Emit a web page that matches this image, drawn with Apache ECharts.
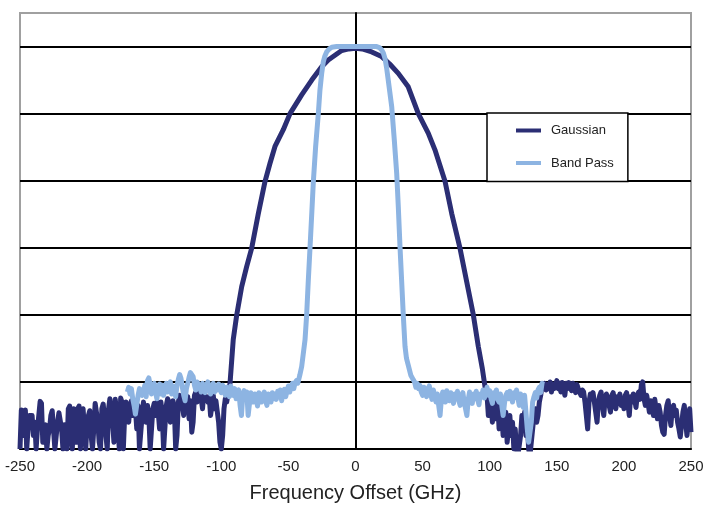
<!DOCTYPE html>
<html>
<head>
<meta charset="utf-8">
<script src="https://cdn.jsdelivr.net/npm/echarts@6/dist/echarts.min.js"></script>
<style>
html,body{margin:0;padding:0;background:#fff;}
#chart{width:708px;height:508px;}
</style>
</head>
<body>
<div id="chart"></div>
<script>
// X-axis tick range (GHz)
const xTicks = { min: -250, max: 250, step: 50 };
// Y range (dB); grid lines every 10 dB
const yRange = { min: -60, max: 5, step: 10 };

// Gaussian: noise floor sampled every 1 GHz from -250 to -96
const gaussLeftNoiseStart = -250;
const gaussLeftNoise = [
  -60, -54.2, -54.4, -58, -54.2, -60, -57, -55, -55.2, -55,
  -58, -56, -60, -57, -55, -52.9, -53.2, -59, -57, -56.4,
  -60, -58, -57, -55, -54.3, -54.5, -60, -58, -56, -54.6,
  -54.8, -57, -60, -56.4, -58, -60, -54, -53.6, -53.8, -60,
  -54, -53.8, -59, -54, -53.6, -60, -55, -54, -53.8, -60,
  -56, -55, -54.3, -58, -60, -57, -53.2, -53.1, -56, -59,
  -60, -54, -53.3, -53.5, -58, -60, -54, -52.5, -52.4, -56,
  -59, -52.6, -52.5, -57, -60, -52.4, -53, -60, -55, -53,
  -52.8, -56, -53.5, -52.8, -55, -53, -54, -57, -53.5, -60,
  -60, -55, -53, -52.8, -56, -53.5, -55, -60, -60, -54,
  -53.2, -55, -53, -54.5, -57, -53, -55, -60, -60, -53.5,
  -52.5, -53, -56, -54.5, -52.8, -54, -60, -58, -53, -52,
  -51.8, -53.5, -55, -51.8, -53, -52.2, -55.5, -52.8, -57.5, -56,
  -52, -51.5, -53, -51.2, -50.8, -52.5, -54, -51.5, -52, -51.8,
  -53, -52.2, -55, -53.5, -52, -54, -52.8, -53, -56, -59,
  -60, -58, -54, -52.5, -53
];
// Gaussian: main lobe
const gaussCurveX = [-95, -93.5, -91.1, -88.5, -84.8, -81.1, -77.4, -72.4, -67.4, -63.7,
  -60, -53.8, -48.8, -40.1, -32.6, -25.2, -20.3, -15.3, -10.3, -5,
  0, 5, 12.1, 19.5, 25.5, 31.9, 39.3, 46.8, 54.2, 59.2,
  66.7, 71.7, 77.9, 82.9, 87.8, 91.5, 94.5, 96.5];
const gaussCurveY = [-53, -50.2, -43.7, -40, -35.8, -32.8, -30.1, -24.9, -20.1, -17.4,
  -14.9, -12.4, -10, -7.2, -5, -3, -2, -1.3, -0.6, -0.35,
  -0.27, -0.35, -0.8, -1.5, -2.6, -4, -6, -10, -12.9, -15.4,
  -20.1, -24.9, -30.1, -35.1, -40, -44.7, -48, -50.7];
// Gaussian: noise floor sampled every 1 GHz from 97 to 250
const gaussRightNoiseStart = 97;
const gaussRightNoise = [
  -51.5, -52, -55, -51.5, -53, -56, -52, -54, -55.5, -53,
  -57, -54, -55, -58, -56, -54.5, -59, -57, -55, -58,
  -56, -60, -57, -60, -61, -61, -58, -55, -57, -54.5,
  -58, -56, -60, -61, -61, -57, -55, -54, -56, -55,
  -53, -52, -50.5, -50.8, -50.2, -51.2, -50.4, -51, -50, -51.5,
  -50.3, -51, -50.6, -49.8, -51, -50.2, -51.5, -50.1, -50.6, -52,
  -50.2, -51, -50.1, -50.7, -51.3, -50.2, -50.5, -51.6, -50.4, -51,
  -50.8, -52, -51.2, -51.5, -53, -55, -57, -53, -51.8, -52.5,
  -51.6, -53, -54.5, -56, -53, -52, -51.5, -53.5, -55, -52.5,
  -51.8, -52.6, -53.5, -54.5, -52, -51.6, -53, -54, -52.2, -52.8,
  -51.8, -53.5, -52.5, -54, -52, -51.6, -53.2, -55, -52.2, -53,
  -51.8, -52.5, -53.8, -52, -51.5, -52.6, -50.4, -50, -52.5, -53.5,
  -52, -53.2, -54.5, -52.8, -53.5, -55, -52.6, -54, -55.5, -53.5,
  -54.5, -56.5, -57.5, -57.8, -55, -53.5, -52.8, -55, -56.5, -54,
  -53.5, -55, -54.2, -56, -57, -58.2, -58, -54.5, -53.5, -56,
  -58, -58, -54, -57.5
];

// Band Pass: noise floor sampled every 1 GHz from -170 to -43
const bandLeftNoiseStart = -170;
const bandLeftNoise = [
  -51.5, -50.8, -51.8, -51, -52.5, -53.5, -54.8, -55, -52, -51,
  -50.8, -52, -51.3, -50.5, -52.2, -49.8, -49.4, -50.5, -51.8, -51,
  -50.2, -51.5, -52.5, -51, -50.3, -51.8, -50.5, -52, -51.2, -50.2,
  -51.5, -50.5, -50, -51.8, -50.6, -51.2, -52.2, -50.5, -49.6, -48.9,
  -49.5, -50.8, -52, -52.8, -51, -50.2, -49.3, -48.6, -48.4, -49.2,
  -50.5, -51.2, -50, -49.8, -50.8, -51.5, -50.2, -50.8, -51.6, -50.4,
  -50, -51, -51.8, -50.6, -50.2, -51.5, -50.8, -51.2, -50.3, -51,
  -51.6, -50.5, -51, -52, -50.8, -51.5, -52.2, -50.6, -51.3, -52,
  -51, -52.5, -51.5, -51.2, -53.5, -55, -52, -51.3, -52.6, -51.5,
  -55, -53.2, -51.6, -52.2, -53, -51.8, -52.5, -53.6, -51.6, -52.3,
  -53, -52, -51.5, -52.8, -53.5, -51.8, -52.4, -53, -51.6, -52.5,
  -51.8, -52.6, -51.4, -52.2, -51.2, -52.8, -51.5, -51.1, -52.2, -51.3,
  -50.6, -51.5, -50.8, -50.2, -51, -50.1, -49.8, -50.2
];
// Band Pass: pass band
const bandCurveX = [-41.5, -40.1, -37.6, -36.4, -35.2, -33.9, -32.6, -31.4, -29.7, -27.7,
  -26.5, -25.2, -24, -22.8, -21.5, -19.5, -17.7, -14, 0, 15.8,
  17.8, 19.5, 20.8, 22, 23.2, 24.4, 27, 28.9, 30.7, 31.9,
  33.2, 34.4, 35.6, 36.9, 38, 39.3, 41.2, 43.1];
const bandCurveY = [-49, -47.7, -43.7, -40, -35, -30, -24.9, -20.1, -14.9, -10,
  -6.5, -4, -2.3, -1.4, -0.8, -0.35, -0.1, 0, 0, 0,
  -0.15, -0.5, -1.0, -1.8, -3.2, -5, -9, -13.9, -18.9, -23.9,
  -30, -35, -40, -44.7, -46.5, -47.5, -49, -49.7];
// Band Pass: noise floor sampled every 1 GHz from 44 to 140
const bandRightNoiseStart = 44;
const bandRightNoise = [
  -50, -50.8, -50.2, -51, -50.5, -51.5, -52, -50.8, -51.4, -52.2,
  -51, -50.6, -51.8, -52.6, -51.2, -52, -53, -51.8, -53.5, -55,
  -52.5, -51.5, -52.2, -53, -51.3, -52, -52.8, -51.6, -52.4, -53.2,
  -51.8, -52.5, -51.4, -52.8, -53.5, -52, -51.6, -53, -54, -55,
  -52.6, -51.5, -52.3, -53.2, -51.8, -52.5, -51.4, -52.6, -53.4, -51.8,
  -52.2, -51.2, -52.4, -51.6, -50.8, -52, -51.3, -52.5, -53.2, -51.6,
  -52.4, -51.2, -52.6, -53, -51.8, -53.5, -55, -53.2, -52, -51.6,
  -52.5, -51.4, -52.2, -53, -51.6, -52.3, -51.2, -52.4, -53.5, -51.8,
  -52.6, -53.8, -52, -54.5, -57, -59, -59.2, -56, -53, -52.2,
  -51.6, -52.4, -51.2, -50.8, -51.6, -50.2, -50.4
];

function sampled(start, vals) { return vals.map((v, i) => [start + i, v]); }
function paired(xs, ys) { return xs.map((x, i) => [x, ys[i]]); }

const gaussData = [].concat(
  sampled(gaussLeftNoiseStart, gaussLeftNoise),
  paired(gaussCurveX, gaussCurveY),
  sampled(gaussRightNoiseStart, gaussRightNoise)
);
const bandData = [].concat(
  sampled(bandLeftNoiseStart, bandLeftNoise),
  paired(bandCurveX, bandCurveY),
  sampled(bandRightNoiseStart, bandRightNoise)
);

const chart = echarts.init(document.getElementById('chart'), null, { renderer: 'canvas' });
const font = 'Liberation Sans, Arial, Helvetica, sans-serif';
chart.setOption({
  animation: false,
  backgroundColor: '#fff',
  grid: { left: 20, right: 17, top: 13, bottom: 59, show: true, borderColor: '#a0a0a0', borderWidth: 2, backgroundColor: 'transparent' },
  legend: {
    orient: 'vertical', left: 487, top: 113,
    icon: 'rect', itemWidth: 25, itemHeight: 4, itemGap: 19.5,
    padding: [11, 14, 12, 29],
    borderColor: '#000', borderWidth: 1.5, backgroundColor: '#fff',
    textStyle: { fontFamily: font, fontSize: 13, color: '#222', padding: [0, 0, 0, 5] },
    data: ['Gaussian', 'Band Pass']
  },
  xAxis: {
    type: 'value', min: xTicks.min, max: xTicks.max, interval: xTicks.step,
    name: 'Frequency Offset (GHz)', nameLocation: 'middle', nameGap: 34,
    nameTextStyle: { fontFamily: font, fontSize: 20, color: '#222' },
    axisLine: { onZero: false, lineStyle: { color: '#000', width: 2 } },
    axisTick: { show: false },
    axisLabel: { fontFamily: font, fontSize: 15, color: '#222', margin: 10 },
    splitLine: { show: false }
  },
  yAxis: {
    type: 'value', min: yRange.min, max: yRange.max, interval: yRange.step,
    axisLine: { show: true, onZero: true, lineStyle: { color: '#000', width: 2 } },
    axisTick: { show: false },
    axisLabel: { show: false },
    splitLine: { show: true, showMaxLine: false, lineStyle: { color: '#000', width: 2 } }
  },
  series: [
    { name: 'Gaussian', type: 'line', data: gaussData, showSymbol: false, symbol: 'none',
      lineStyle: { color: '#2b2e74', width: 5, join: 'round' }, itemStyle: { color: '#2b2e74' }, clip: true },
    { name: 'Band Pass', type: 'line', data: bandData, showSymbol: false, symbol: 'none',
      lineStyle: { color: '#8db4e2', width: 5, join: 'round' }, itemStyle: { color: '#8db4e2' }, clip: true }
  ]
});
</script>
</body>
</html>
